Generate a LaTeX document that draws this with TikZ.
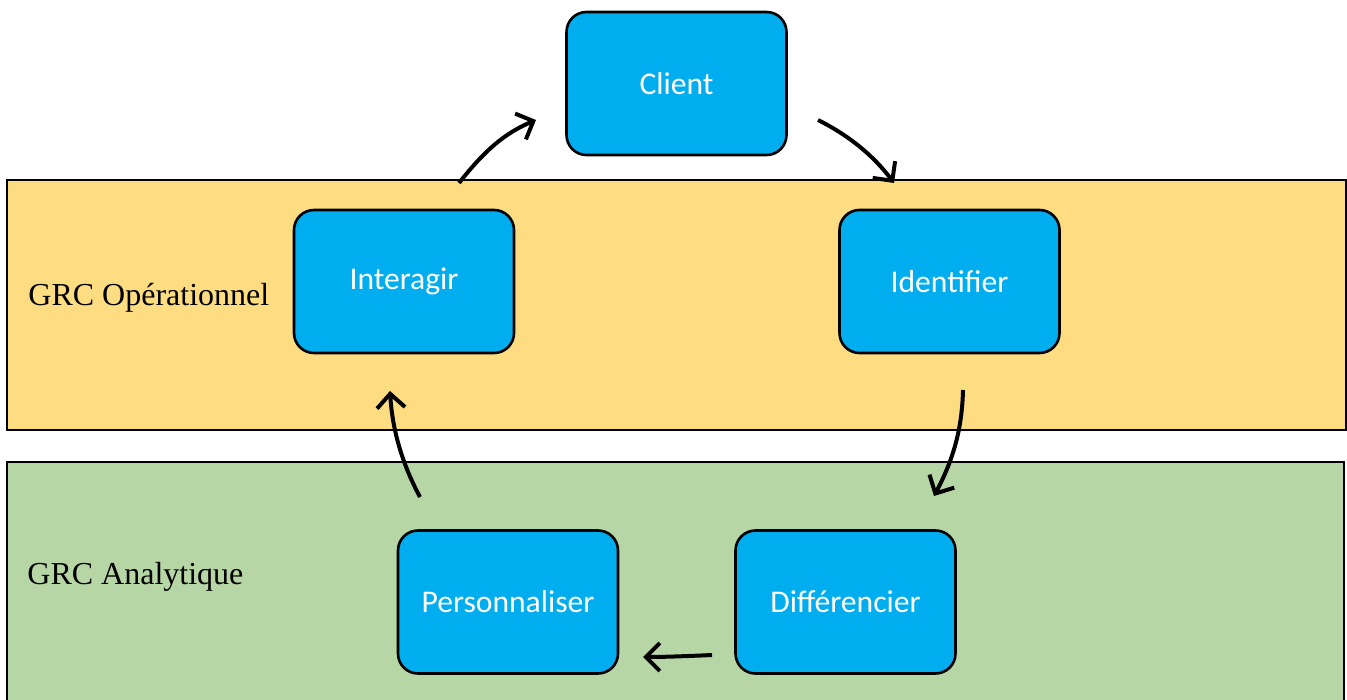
\documentclass[tikz,border=0pt]{standalone}
\usepackage{fontspec}
\setmainfont{Liberation Serif}
\newfontfamily\boxfont{Carlito}
\usetikzlibrary{arrows.meta}
\definecolor{bandyellow}{HTML}{FEDC82}
\definecolor{bandgreen}{HTML}{B7D6A6}
\definecolor{stepblue}{HTML}{00AEEF}
\tikzset{
  stepbox/.style={draw=black, line width=1.3pt, fill=stepblue, rounded corners=10pt,
    minimum width=110pt, minimum height=71.5pt, inner sep=0pt,
    font=\boxfont\fontsize{15.8}{18}\selectfont, text=white},
  bandlabel/.style={anchor=west, inner sep=0pt, font=\fontsize{16}{18}\selectfont, text=black},
  flow/.style={-{Straight Barb[length=7pt,width=14pt,line width=2pt]}, line width=2pt, black}
}
\begin{document}
\begin{tikzpicture}[x=0.5pt,y=-0.5pt]
\useasboundingbox (0,0) rectangle (1347,700);
% layer bands
\fill[bandyellow] (7,180) rectangle (1346,430);
\draw[line width=1pt] (7,180) rectangle (1346,430);
\fill[bandgreen] (7,462) rectangle (1344,705);
\draw[line width=1pt] (7,705) -- (7,462) -- (1344,462) -- (1344,705);
\node[bandlabel] (op) at (28,298) {GRC Opérationnel};
\node[bandlabel] (an) at (27,577) {GRC Analytique};
% steps of the cycle
\node[stepbox] (client) at (676.5,83.5) {Client};
\node[stepbox] (interagir) at (404,281.5) {Interagir};
\node[stepbox] (identifier) at (949.5,281.5) {Identifier};
\node[stepbox] (perso) at (508,602) {Personnaliser};
\node[stepbox] (diff) at (845.5,602) {Différencier};
% arrow ends
\coordinate (a1s) at (459,183); \coordinate (a1e) at (536,120);
\coordinate (a2s) at (818,120); \coordinate (a2e) at (894,183);
\coordinate (a3s) at (963,390); \coordinate (a3e) at (934,496);
\coordinate (a4s) at (712,655); \coordinate (a4e) at (643,657);
\coordinate (a5s) at (420,497); \coordinate (a5e) at (390,391);
\draw[flow] (a1s) .. controls (485,150) and (505,133) .. (a1e);
\draw[flow] (a2s) .. controls (848,135) and (873,155) .. (a2e);
\draw[flow] (a3s) .. controls (962,430) and (953,460) .. (a3e);
\draw[flow] (a4s) .. controls (690,656) and (665,657) .. (a4e);
\draw[flow] (a5s) .. controls (400,460) and (392,425) .. (a5e);
\end{tikzpicture}
\end{document}
